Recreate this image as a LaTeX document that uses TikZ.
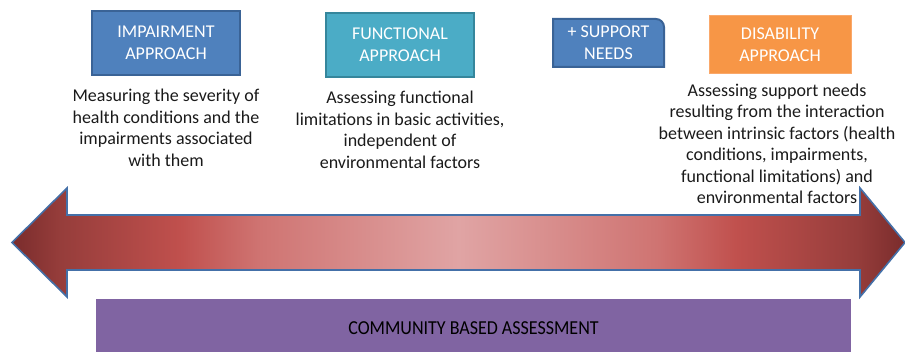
\documentclass[tikz,border=0pt]{standalone}
\usepackage{fontspec}
\setmainfont{Carlito}
\definecolor{ar0}{HTML}{7A2C2C}
\definecolor{ar1}{HTML}{963D3B}
\definecolor{ar2}{HTML}{C0504D}
\definecolor{ar3}{HTML}{CF7472}
\definecolor{ar4}{HTML}{E0A4A4}
\definecolor{arline}{HTML}{4470A8}
\definecolor{impfill}{HTML}{4F81BD}
\definecolor{impline}{HTML}{3A6396}
\definecolor{funfill}{HTML}{4BACC6}
\definecolor{funline}{HTML}{35869C}
\definecolor{disfill}{HTML}{F79646}
\definecolor{disline}{HTML}{FAA86A}
\definecolor{comfill}{HTML}{8064A2}
\definecolor{txt}{HTML}{1A1A1A}
\pgfdeclarehorizontalshading{arrowshade}{100bp}{color(0bp)=(ar0); color(25bp)=(ar0); color(27.7bp)=(ar1); color(34.4bp)=(ar2); color(38.9bp)=(ar3); color(50bp)=(ar4); color(61.1bp)=(ar3); color(65.6bp)=(ar2); color(72.3bp)=(ar1); color(75bp)=(ar0); color(100bp)=(ar0)}
\tikzset{
  lbl/.style={text=white, font=\fontsize{18}{22}\selectfont, align=center, inner sep=0pt},
  desc/.style={text=txt, font=\fontsize{18}{21.5}\selectfont, align=center, inner sep=0pt, anchor=base},
  boxdraw/.style={line width=2pt}
}
\begin{document}
\begin{tikzpicture}[x=1pt,y=1pt]
\useasboundingbox (0,0) rectangle (905,352);
% arrow
\draw[arline, line width=1.6pt, line join=miter, shading=arrowshade]
  (12,109.5) -- (67,164) -- (67,137) -- (860,137) -- (860,164) -- (905,109.5)
  -- (860,55) -- (860,82) -- (67,82) -- (67,55) -- cycle;
% community box
\fill[comfill] (96,0) rectangle (851,53);
\node[text=black, inner sep=0pt] (com) at (473.5,24) {\scalebox{1}[1.1]{\fontsize{18}{22}\selectfont COMMUNITY BASED ASSESSMENT}};
% boxes
\draw[boxdraw, impline, fill=impfill] (92,277) rectangle (240,341);
\node[lbl] (imp) at (166,309) {IMPAIRMENT\\APPROACH};
\draw[boxdraw, funline, fill=funfill] (326,275) rectangle (474,339);
\node[lbl] (fun) at (400,307) {FUNCTIONAL\\APPROACH};
\draw[boxdraw, impline, fill=impfill] (553,285) -- (553,333) -- (656,333) arc(90:0:8) -- (664,285) -- cycle;
\node[lbl] (sup) at (608.5,309) {+ SUPPORT\\NEEDS};
\draw[line width=1pt, disline, fill=disfill] (709,278) rectangle (851,336);
\node[lbl] (dis) at (780,307) {DISABILITY\\APPROACH};
% descriptions (anchor = baseline of last line)
\node[desc] (impd) at (166,185.5) {Measuring the severity of\\health conditions and the\\impairments associated\\with them};
\node[desc] (fund) at (400,183.5) {Assessing functional\\limitations in basic activities,\\independent of\\environmental factors};
\node[desc] (disd) at (777,148) {Assessing support needs\\resulting from the interaction\\between intrinsic factors (health\\conditions, impairments,\\functional limitations) and\\environmental factors};
\end{tikzpicture}
\end{document}
